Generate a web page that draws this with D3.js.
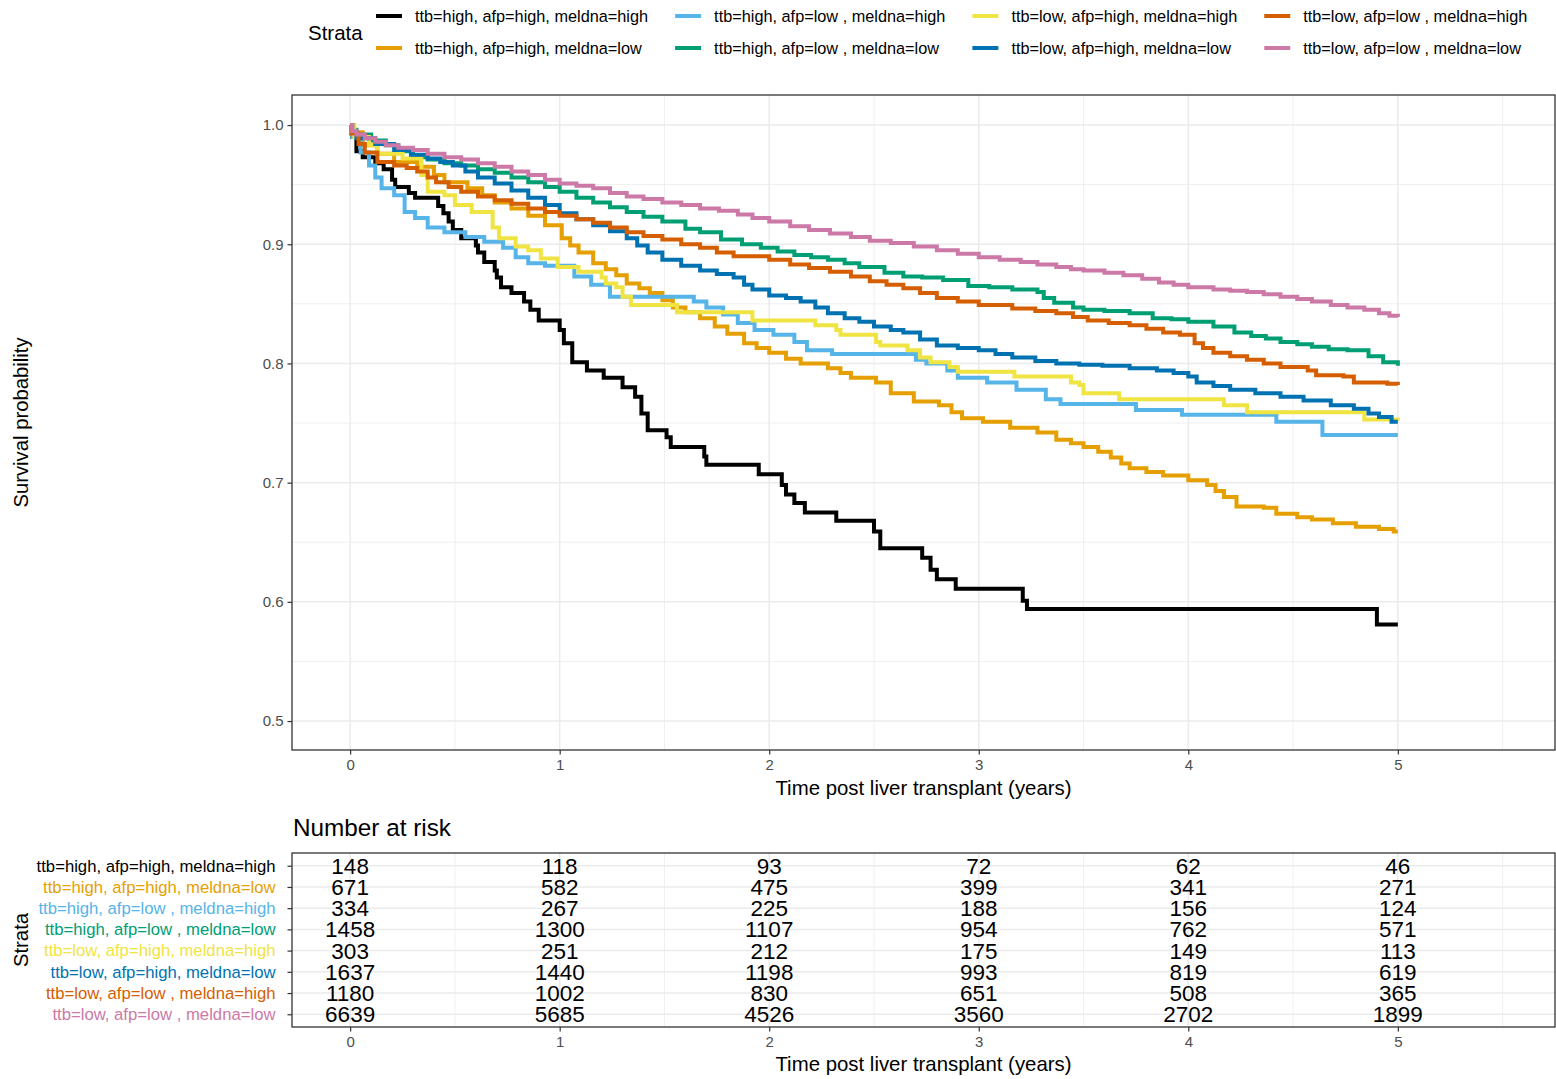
<!DOCTYPE html>
<html>
<head>
<meta charset="utf-8">
<title>Survival by strata</title>
<script src="https://d3js.org/d3.v7.min.js"></script>
<style>
  body { margin: 0; background: #fff; }
  svg text { font-family: "Liberation Sans", Arial, sans-serif; }
</style>
</head>
<body>
<script>
// strata names, in the order used by legend and risk table
var strata = [
  "ttb=high, afp=high, meldna=high",
  "ttb=high, afp=high, meldna=low",
  "ttb=high, afp=low , meldna=high",
  "ttb=high, afp=low , meldna=low",
  "ttb=low, afp=high, meldna=high",
  "ttb=low, afp=high, meldna=low",
  "ttb=low, afp=low , meldna=high",
  "ttb=low, afp=low , meldna=low"
];
var colors = ["#000000", "#E69F00", "#56B4E9", "#009E73", "#F0E442", "#0072B2", "#D55E00", "#CC79A7"];

// survival curves, [time (years), survival] (step after)
var hhh = [[0,1.0],[0.01,0.99],[0.03,0.978],[0.06,0.973],[0.12,0.968],[0.16,0.963],[0.2,0.954],[0.215,0.948],[0.28,0.943],[0.31,0.939],[0.42,0.932],[0.445,0.926],[0.47,0.919],[0.49,0.912],[0.53,0.905],[0.6,0.899],[0.61,0.893],[0.64,0.885],[0.69,0.878],[0.7,0.872],[0.72,0.864],[0.77,0.859],[0.83,0.852],[0.86,0.845],[0.9,0.836],[1.0,0.828],[1.02,0.817],[1.06,0.801],[1.13,0.794],[1.21,0.788],[1.3,0.780],[1.36,0.772],[1.39,0.758],[1.42,0.744],[1.51,0.738],[1.53,0.730],[1.69,0.722],[1.7,0.715],[1.95,0.707],[2.06,0.698],[2.08,0.690],[2.12,0.683],[2.17,0.675],[2.32,0.668],[2.5,0.659],[2.53,0.645],[2.73,0.637],[2.77,0.627],[2.8,0.619],[2.89,0.611],[3.21,0.601],[3.23,0.594],[4.9,0.581],[5.0,0.581]];
var hhl = [[0,1.0],[0.01,0.994],[0.06,0.983],[0.13,0.976],[0.21,0.969],[0.32,0.965],[0.4,0.958],[0.45,0.952],[0.56,0.947],[0.63,0.941],[0.69,0.935],[0.77,0.93],[0.85,0.924],[0.93,0.916],[1.01,0.905],[1.05,0.899],[1.09,0.893],[1.16,0.884],[1.22,0.879],[1.27,0.874],[1.32,0.867],[1.38,0.863],[1.43,0.859],[1.49,0.853],[1.54,0.847],[1.6,0.843],[1.67,0.838],[1.74,0.831],[1.8,0.825],[1.88,0.817],[1.94,0.813],[2.0,0.809],[2.08,0.804],[2.15,0.80],[2.28,0.796],[2.34,0.792],[2.39,0.788],[2.51,0.784],[2.58,0.775],[2.69,0.768],[2.81,0.765],[2.87,0.759],[2.92,0.754],[3.02,0.751],[3.15,0.746],[3.28,0.742],[3.37,0.736],[3.44,0.733],[3.5,0.730],[3.57,0.726],[3.63,0.721],[3.68,0.716],[3.72,0.712],[3.8,0.709],[3.88,0.706],[4.0,0.702],[4.09,0.698],[4.13,0.693],[4.17,0.688],[4.23,0.680],[4.36,0.679],[4.42,0.674],[4.52,0.671],[4.59,0.669],[4.69,0.666],[4.8,0.663],[4.91,0.661],[4.98,0.659],[5.0,0.659]];
var hlh = [[0,1.0],[0.01,0.99],[0.05,0.977],[0.09,0.966],[0.12,0.956],[0.15,0.947],[0.21,0.941],[0.26,0.927],[0.31,0.922],[0.37,0.914],[0.45,0.910],[0.55,0.906],[0.64,0.902],[0.73,0.897],[0.79,0.889],[0.85,0.884],[0.93,0.882],[1.07,0.873],[1.15,0.866],[1.24,0.856],[1.64,0.852],[1.70,0.847],[1.78,0.841],[1.85,0.834],[1.93,0.828],[2.02,0.824],[2.12,0.818],[2.18,0.811],[2.3,0.808],[2.70,0.803],[2.75,0.80],[2.85,0.794],[2.90,0.788],[3.04,0.784],[3.18,0.778],[3.32,0.770],[3.39,0.766],[3.75,0.761],[3.97,0.757],[4.42,0.751],[4.64,0.740],[5.0,0.740]];
var hll = [[0,1.0],[0.01,0.996],[0.03,0.992],[0.1,0.987],[0.17,0.983],[0.23,0.978],[0.3,0.973],[0.37,0.971],[0.45,0.968],[0.53,0.966],[0.61,0.963],[0.69,0.960],[0.77,0.956],[0.85,0.952],[0.93,0.948],[1.0,0.944],[1.08,0.939],[1.16,0.935],[1.24,0.931],[1.32,0.927],[1.4,0.923],[1.49,0.919],[1.6,0.913],[1.67,0.910],[1.77,0.904],[1.87,0.900],[1.96,0.897],[2.04,0.894],[2.12,0.891],[2.2,0.889],[2.28,0.887],[2.36,0.884],[2.43,0.881],[2.55,0.876],[2.64,0.873],[2.73,0.872],[2.83,0.870],[2.95,0.865],[3.05,0.864],[3.16,0.862],[3.28,0.86],[3.31,0.855],[3.36,0.851],[3.45,0.847],[3.5,0.845],[3.6,0.844],[3.72,0.842],[3.83,0.838],[3.92,0.837],[4.0,0.835],[4.12,0.831],[4.22,0.826],[4.3,0.823],[4.37,0.821],[4.44,0.818],[4.52,0.816],[4.59,0.814],[4.67,0.812],[4.76,0.811],[4.86,0.806],[4.93,0.801],[5.0,0.798]];
var lhh = [[0,1.0],[0.02,0.99],[0.09,0.983],[0.13,0.976],[0.25,0.972],[0.34,0.958],[0.37,0.944],[0.45,0.941],[0.5,0.933],[0.58,0.927],[0.68,0.914],[0.71,0.905],[0.79,0.898],[0.85,0.895],[0.91,0.888],[0.99,0.881],[1.09,0.877],[1.2,0.872],[1.22,0.867],[1.27,0.864],[1.3,0.856],[1.34,0.849],[1.56,0.843],[1.92,0.836],[2.22,0.832],[2.32,0.828],[2.34,0.824],[2.51,0.818],[2.53,0.815],[2.66,0.811],[2.72,0.805],[2.77,0.801],[2.86,0.797],[2.90,0.793],[3.17,0.789],[3.44,0.784],[3.48,0.782],[3.5,0.775],[3.67,0.770],[4.17,0.765],[4.28,0.759],[4.84,0.753],[5.0,0.752]];
var lhl = [[0,1.0],[0.01,0.995],[0.03,0.989],[0.12,0.984],[0.21,0.979],[0.29,0.975],[0.37,0.972],[0.43,0.969],[0.49,0.966],[0.55,0.961],[0.61,0.956],[0.69,0.951],[0.77,0.945],[0.85,0.939],[0.93,0.933],[1.0,0.926],[1.08,0.921],[1.16,0.916],[1.24,0.911],[1.32,0.905],[1.37,0.899],[1.42,0.893],[1.49,0.887],[1.58,0.882],[1.67,0.878],[1.75,0.875],[1.83,0.872],[1.88,0.866],[1.92,0.862],[2.0,0.857],[2.08,0.855],[2.15,0.852],[2.22,0.847],[2.28,0.842],[2.36,0.838],[2.43,0.835],[2.5,0.831],[2.58,0.828],[2.64,0.826],[2.72,0.82],[2.8,0.815],[2.9,0.813],[3.0,0.811],[3.08,0.808],[3.16,0.805],[3.27,0.802],[3.37,0.80],[3.48,0.799],[3.59,0.798],[3.72,0.796],[3.85,0.794],[3.93,0.792],[4.0,0.789],[4.04,0.784],[4.12,0.781],[4.2,0.778],[4.32,0.775],[4.44,0.772],[4.55,0.769],[4.68,0.765],[4.79,0.762],[4.86,0.758],[4.91,0.755],[4.97,0.751],[5.0,0.751]];
var llh = [[0,1.0],[0.005,0.993],[0.04,0.984],[0.07,0.977],[0.13,0.969],[0.21,0.966],[0.27,0.964],[0.32,0.961],[0.37,0.956],[0.41,0.952],[0.47,0.948],[0.53,0.944],[0.61,0.940],[0.69,0.937],[0.77,0.934],[0.85,0.930],[0.93,0.927],[1.0,0.924],[1.08,0.921],[1.16,0.918],[1.24,0.914],[1.32,0.910],[1.4,0.907],[1.49,0.904],[1.58,0.900],[1.67,0.897],[1.75,0.893],[1.83,0.890],[2.0,0.887],[2.1,0.883],[2.19,0.880],[2.29,0.877],[2.39,0.873],[2.48,0.869],[2.56,0.866],[2.64,0.863],[2.72,0.859],[2.8,0.855],[2.9,0.852],[3.0,0.849],[3.16,0.846],[3.27,0.844],[3.37,0.842],[3.45,0.839],[3.52,0.836],[3.62,0.834],[3.72,0.832],[3.8,0.829],[3.88,0.826],[3.96,0.824],[4.03,0.817],[4.07,0.813],[4.12,0.809],[4.2,0.806],[4.28,0.803],[4.36,0.800],[4.44,0.797],[4.57,0.794],[4.61,0.790],[4.74,0.789],[4.79,0.784],[4.95,0.783],[5.0,0.782]];
var lll = [[0,1.0],[0.01,0.995],[0.03,0.992],[0.07,0.989],[0.12,0.986],[0.17,0.983],[0.23,0.981],[0.3,0.979],[0.37,0.976],[0.45,0.973],[0.53,0.971],[0.61,0.968],[0.69,0.965],[0.77,0.961],[0.85,0.958],[0.93,0.954],[1.0,0.951],[1.08,0.949],[1.16,0.947],[1.24,0.943],[1.32,0.940],[1.4,0.938],[1.49,0.935],[1.58,0.933],[1.67,0.930],[1.76,0.928],[1.85,0.925],[1.92,0.922],[2.0,0.919],[2.1,0.915],[2.19,0.912],[2.29,0.909],[2.39,0.906],[2.48,0.903],[2.58,0.901],[2.69,0.898],[2.8,0.895],[2.9,0.892],[3.0,0.889],[3.1,0.887],[3.2,0.885],[3.28,0.883],[3.37,0.881],[3.44,0.879],[3.5,0.878],[3.6,0.876],[3.69,0.874],[3.78,0.871],[3.86,0.868],[3.93,0.866],[4.0,0.864],[4.12,0.862],[4.2,0.861],[4.28,0.86],[4.36,0.858],[4.44,0.856],[4.52,0.854],[4.59,0.852],[4.68,0.849],[4.76,0.847],[4.84,0.845],[4.91,0.842],[4.96,0.84],[5.0,0.839]];
var curves = [hhh, hhl, hlh, hll, lhh, lhl, llh, lll];

// number at risk
var riskTimes = [0, 1, 2, 3, 4, 5];
var riskCounts = [
  [148, 118, 93, 72, 62, 46],
  [671, 582, 475, 399, 341, 271],
  [334, 267, 225, 188, 156, 124],
  [1458, 1300, 1107, 954, 762, 571],
  [303, 251, 212, 175, 149, 113],
  [1637, 1440, 1198, 993, 819, 619],
  [1180, 1002, 830, 651, 508, 365],
  [6639, 5685, 4526, 3560, 2702, 1899]
];

var xTicks = [0, 1, 2, 3, 4, 5];
var xMinor = [0.5, 1.5, 2.5, 3.5, 4.5, 5.5];
var yTicks = [0.5, 0.6, 0.7, 0.8, 0.9, 1.0];
var yMinor = [0.55, 0.65, 0.75, 0.85, 0.95];

var W = 1556, H = 1079;
var svg = d3.select("body").append("svg").attr("width", W).attr("height", H);

var P = {left: 292, right: 1555, top: 95, bottom: 750};
var T = {top: 853, bottom: 1027};

var x = d3.scaleLinear().domain([-0.2775, 5.75]).range([P.left, P.right]);
var y = d3.scaleLinear().domain([0.4757, 1.0252]).range([P.bottom, P.top]);
var yr = d3.scalePoint().domain(strata).range([T.top, T.bottom]).padding(0.6);

var gridCol = "#EBEBEB", frameCol = "#333333", tickTextCol = "#4D4D4D";

// ---------- main panel ----------
var main = svg.append("g");
main.selectAll(".ymin").data(yMinor).enter().append("line")
  .attr("x1", P.left).attr("x2", P.right).attr("y1", d => y(d)).attr("y2", d => y(d))
  .attr("stroke", gridCol).attr("stroke-width", 0.8);
main.selectAll(".xmin").data(xMinor).enter().append("line")
  .attr("y1", P.top).attr("y2", P.bottom).attr("x1", d => x(d)).attr("x2", d => x(d))
  .attr("stroke", gridCol).attr("stroke-width", 0.8);
main.selectAll(".ymaj").data(yTicks).enter().append("line")
  .attr("x1", P.left).attr("x2", P.right).attr("y1", d => y(d)).attr("y2", d => y(d))
  .attr("stroke", gridCol).attr("stroke-width", 1.5);
main.selectAll(".xmaj").data(xTicks).enter().append("line")
  .attr("y1", P.top).attr("y2", P.bottom).attr("x1", d => x(d)).attr("x2", d => x(d))
  .attr("stroke", gridCol).attr("stroke-width", 1.5);

svg.append("clipPath").attr("id", "clip").append("rect")
  .attr("x", P.left).attr("y", P.top).attr("width", P.right - P.left).attr("height", P.bottom - P.top);

var line = d3.line().x(d => x(d[0])).y(d => y(d[1])).curve(d3.curveStepAfter);
main.append("g").attr("clip-path", "url(#clip)")
  .selectAll("path").data(curves).enter().append("path")
  .attr("d", line).attr("fill", "none")
  .attr("stroke", (d, i) => colors[i]).attr("stroke-width", 4)
  .attr("stroke-linejoin", "miter").attr("stroke-linecap", "butt");

main.append("rect").attr("x", P.left).attr("y", P.top)
  .attr("width", P.right - P.left).attr("height", P.bottom - P.top)
  .attr("fill", "none").attr("stroke", frameCol).attr("stroke-width", 1.3);

var yAxis = main.append("g").attr("transform", "translate(" + P.left + ",0)")
  .call(d3.axisLeft(y).tickValues(yTicks).tickFormat(d3.format(".1f")).tickSize(4.5).tickPadding(4));
var xAxis = main.append("g").attr("transform", "translate(0," + P.bottom + ")")
  .call(d3.axisBottom(x).tickValues(xTicks).tickFormat(d3.format("d")).tickSize(4.5).tickPadding(5));
[yAxis, xAxis].forEach(function (a) {
  a.select(".domain").remove();
  a.selectAll(".tick line").attr("stroke", frameCol).attr("stroke-width", 1.2);
  a.selectAll(".tick text").attr("fill", tickTextCol).style("font-size", "15px");
});

main.append("text").attr("x", (P.left + P.right) / 2).attr("y", 795)
  .attr("text-anchor", "middle").style("font-size", "20.4px").text("Time post liver transplant (years)");
main.append("text").attr("transform", "translate(28," + (P.top + P.bottom) / 2 + ") rotate(-90)")
  .attr("text-anchor", "middle").style("font-size", "20.3px").text("Survival probability");

// ---------- legend ----------
var leg = svg.append("g");
leg.append("text").attr("x", 308).attr("y", 40).style("font-size", "20.5px").text("Strata");
var rowsY = [16, 48];
var colX = 376;
for (var c = 0; c < 4; c++) {
  var maxW = 0;
  for (var r = 0; r < 2; r++) {
    var i = c * 2 + r;
    leg.append("line").attr("x1", colX).attr("x2", colX + 26)
      .attr("y1", rowsY[r]).attr("y2", rowsY[r])
      .attr("stroke", colors[i]).attr("stroke-width", 4);
    var t = leg.append("text").attr("x", colX + 39).attr("y", rowsY[r] + 5.5)
      .style("font-size", "16.3px").style("white-space", "pre").text(strata[i]);
    maxW = Math.max(maxW, t.node().getComputedTextLength());
  }
  colX = colX + 39 + maxW + 27;
}

// ---------- risk table ----------
var tab = svg.append("g");
tab.append("text").attr("x", 293).attr("y", 836).style("font-size", "24.3px").text("Number at risk");

tab.selectAll(".rxmin").data(xMinor).enter().append("line")
  .attr("y1", T.top).attr("y2", T.bottom).attr("x1", d => x(d)).attr("x2", d => x(d))
  .attr("stroke", gridCol).attr("stroke-width", 0.8);
tab.selectAll(".rxmaj").data(xTicks).enter().append("line")
  .attr("y1", T.top).attr("y2", T.bottom).attr("x1", d => x(d)).attr("x2", d => x(d))
  .attr("stroke", gridCol).attr("stroke-width", 1.5);
tab.selectAll(".rymaj").data(strata).enter().append("line")
  .attr("x1", P.left).attr("x2", P.right).attr("y1", d => yr(d)).attr("y2", d => yr(d))
  .attr("stroke", gridCol).attr("stroke-width", 1.5);

riskCounts.forEach(function (row, i) {
  tab.selectAll(".n" + i).data(row).enter().append("text")
    .attr("x", (d, j) => x(riskTimes[j])).attr("y", yr(strata[i]))
    .attr("dy", "0.36em").attr("text-anchor", "middle")
    .style("font-size", "22.5px").attr("fill", "#000").text(d => d);
});

tab.append("rect").attr("x", P.left).attr("y", T.top)
  .attr("width", P.right - P.left).attr("height", T.bottom - T.top)
  .attr("fill", "none").attr("stroke", frameCol).attr("stroke-width", 1.3);

var ryAxis = tab.append("g").attr("transform", "translate(" + P.left + ",0)")
  .call(d3.axisLeft(yr).tickSize(4.5).tickPadding(12));
ryAxis.select(".domain").remove();
ryAxis.selectAll(".tick line").attr("stroke", frameCol).attr("stroke-width", 1.2);
ryAxis.selectAll(".tick text").style("font-size", "16.7px").style("white-space", "pre")
  .attr("fill", (d, i) => colors[i]);

var rxAxis = tab.append("g").attr("transform", "translate(0," + T.bottom + ")")
  .call(d3.axisBottom(x).tickValues(xTicks).tickFormat(d3.format("d")).tickSize(4.5).tickPadding(5));
rxAxis.select(".domain").remove();
rxAxis.selectAll(".tick line").attr("stroke", frameCol).attr("stroke-width", 1.2);
rxAxis.selectAll(".tick text").attr("fill", tickTextCol).style("font-size", "15px");

tab.append("text").attr("x", (P.left + P.right) / 2).attr("y", 1071)
  .attr("text-anchor", "middle").style("font-size", "20.4px").text("Time post liver transplant (years)");
tab.append("text").attr("transform", "translate(28," + (T.top + T.bottom) / 2 + ") rotate(-90)")
  .attr("text-anchor", "middle").style("font-size", "20.3px").text("Strata");
</script>
</body>
</html>
